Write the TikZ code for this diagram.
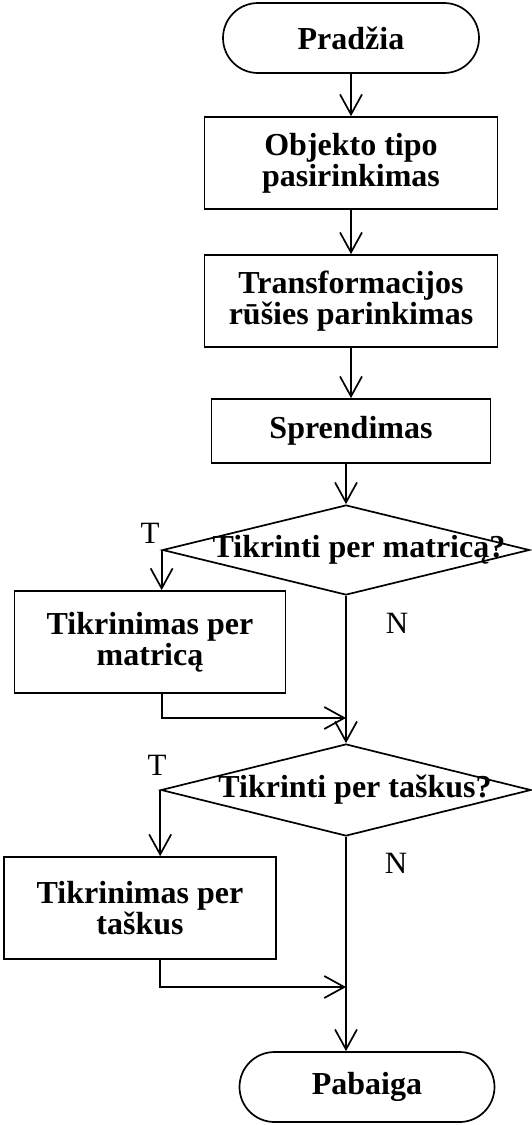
\documentclass[tikz,border=0pt]{standalone}
\usepackage{fontspec}
\setmainfont{Liberation Serif}
\usetikzlibrary{arrows.meta,shapes.misc,shapes.geometric}

\begin{document}
\begin{tikzpicture}[x=1pt,y=-1pt,line width=1.7pt,line join=miter,>={Straight Barb[length=20pt,width=22pt]},font=\fontsize{32}{31}\selectfont\bfseries]
 \tikzset{blokas/.style={draw,rectangle,align=center,inner sep=0pt},
 galas/.style={draw,rounded rectangle,inner sep=0pt},
 salyga/.style={draw,diamond,inner sep=0pt},
 zyme/.style={font=\fontsize{31}{31}\selectfont}
 }
 \useasboundingbox (0,0) rectangle (532,1125);
 % blokai
 \node[galas,minimum width=256pt,minimum height=70pt] (pradzia) at (351,38) {Pradžia};
 \node[blokas,minimum width=293pt,minimum height=92pt] (objektas) at (351,163) {Objekto tipo\\pasirinkimas};
 \node[blokas,minimum width=293pt,minimum height=92pt] (rusis) at (351,301) {Transformacijos\\rūšies parinkimas};
 \node[blokas,minimum width=279pt,minimum height=64pt] (sprendimas) at (351,431) {Sprendimas};
 \node[salyga,minimum width=367pt,minimum height=90pt] (matrica) at (346,550) {};
 \node (matricatxt) at (359,550) {Tikrinti per matricą?};
 \node[blokas,minimum width=271pt,minimum height=102pt] (tikrmatr) at (150,642) {Tikrinimas per\\matricą};
 \node[salyga,minimum width=370pt,minimum height=92pt] (taskai) at (346,790) {};
 \node (taskaitxt) at (355,790) {Tikrinti per taškus?};
 \node[blokas,minimum width=272pt,minimum height=102pt] (tikrtask) at (140,908) {Tikrinimas per\\taškus};
 \node[galas,minimum width=255pt,minimum height=70pt] (pabaiga) at (367,1087) {Pabaiga};
 % T / N
 \node[zyme] (t1) at (150,533) {T};
 \node[zyme] (n1) at (397,623) {N};
 \node[zyme] (t2) at (157,765) {T};
 \node[zyme] (n2) at (396,863) {N};
 % rodykles
 \coordinate (j1) at (matrica.south |- 0,718);
 \coordinate (j2) at (taskai.south |- 0,987);
 \draw[->] (pradzia) -- (objektas);
 \draw[->] (objektas) -- (rusis);
 \draw[->] (rusis) -- (sprendimas);
 \draw[->] (sprendimas.south -| matrica.north) -- (matrica.north);
 \draw[->] (matrica.west) -- (matrica.west |- tikrmatr.north);
 \draw[->] (matrica.south) -- (taskai.north);
 \draw[->] (tikrmatr.south -| matrica.west) |- (j1);
 \draw[->] (taskai.west) -- (taskai.west |- tikrtask.north);
 \draw[->] (tikrtask.south -| taskai.west) |- (j2);
 \draw[->] (taskai.south) -- (taskai.south |- pabaiga.north);
\end{tikzpicture}
\end{document}
